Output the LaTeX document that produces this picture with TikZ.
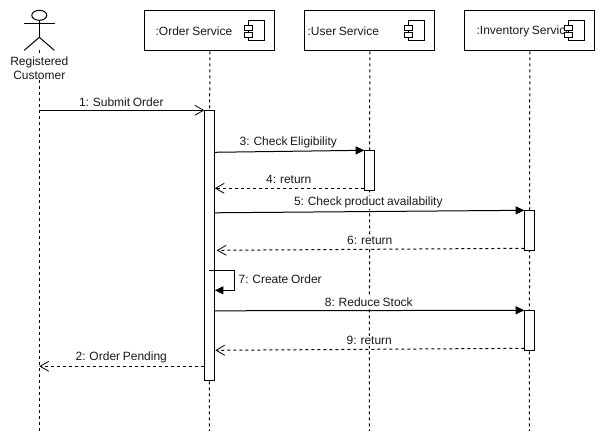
\documentclass[tikz,border=0pt]{standalone}
\usepackage{fontspec}
\setmainfont[WordSpace=0.8]{Liberation Sans}
\usetikzlibrary{arrows.meta,shapes.geometric}
\tikzset{
  x=0.75pt,y=-0.75pt,
  every path/.style={line width=0.75pt},
  lifeline/.style={draw,dash pattern=on 2.25pt off 2.25pt},
  headbox/.style={draw,fill=white,minimum width=97.5pt,minimum height=30pt,inner sep=0pt,anchor=north west},
  bar/.style={draw,fill=white,minimum width=7.5pt,inner sep=0pt,anchor=north west},
  txt/.style={font=\fontsize{9}{10.5}\selectfont,inner sep=0.6pt,text=black!90},
  msglabel/.style={txt,fill=white},
  sync/.style={draw,-{Triangle[length=6.5pt,width=6pt]}},
  async/.style={draw,-{Straight Barb[length=6.5pt,width=7.5pt,line width=0.6pt]}},
  ret/.style={draw,dash pattern=on 2.25pt off 2.25pt,-{Straight Barb[length=6.5pt,width=7.5pt,line width=0.6pt]}},
  iconbody/.style={draw,fill=white},
}
\begin{document}
\begin{tikzpicture}
\useasboundingbox (0.2,0.2) rectangle (605.2,441.2);
% heads
\node[headbox] (order) at (144.5,10.5) {};
\node[headbox] (user) at (304.5,10.5) {};
\node[headbox] (inv) at (464.5,10.5) {};
% lifeline ends
\coordinate (custTop) at (39.5,50);
\coordinate (custEnd) at (39.5,431);
\coordinate (orderEnd) at (209.5,431);
\coordinate (userEnd) at (369.5,431);
\coordinate (invEnd) at (529.5,431);
\draw[lifeline] (custTop) -- (custEnd);
\draw[lifeline] (order.south) -- (orderEnd);
\draw[lifeline] (user.south) -- (userEnd);
\draw[lifeline] (inv.south) -- (invEnd);
% actor
\node[draw,ellipse,minimum width=11.25pt,minimum height=7.5pt,inner sep=0pt] (head) at (39.5,15.5) {};
\coordinate (armL) at (24.5,23.5);
\coordinate (armR) at (55,23.5);
\coordinate (hip) at (39.5,37.5);
\coordinate (legL) at (24.5,50.5);
\coordinate (legR) at (54.5,50.5);
\draw (head.south) -- (hip);
\draw (armL) -- (armR);
\draw (legL) -- (hip) -- (legR);
\node[txt,fill=white,align=center] (cust) at (39.5,68) {Registered\\Customer};
% head text
\node[txt,anchor=west] (orderT) at (154.5,31.5) {:Order Service};
\node[txt,anchor=west] (userT) at (306.5,31.5) {:User Service};
\node[txt,anchor=west] (invT) at (475.5,31.5) {:Inventory Service};
% component icons
\draw[iconbody] (248.5,20.5) rectangle (264.5,40.5);
\draw[iconbody] (244.5,25.5) rectangle (252.5,30.5);
\draw[iconbody] (244.5,32.5) rectangle (252.5,37.5);
\draw[iconbody] (408.5,20.5) rectangle (424.5,40.5);
\draw[iconbody] (404.5,25.5) rectangle (412.5,30.5);
\draw[iconbody] (404.5,32.5) rectangle (412.5,37.5);
\draw[iconbody] (568.5,20.5) rectangle (584.5,40.5);
\draw[iconbody] (564.5,25.5) rectangle (572.5,30.5);
\draw[iconbody] (564.5,32.5) rectangle (572.5,37.5);
% activations
\node[bar,minimum height=202.5pt] (aOrder) at (204.5,110.5) {};
\node[bar,minimum height=30pt] (aUser) at (364.5,150.5) {};
\node[bar,minimum height=30pt] (aInv1) at (524.5,210.5) {};
\node[bar,minimum height=30pt] (aInv2) at (524.5,310.5) {};
% labels
\node[msglabel] (l1) at (121.5,102) {1: Submit Order};
\node[msglabel] (l3) at (288.5,143) {3: Check Eligibility};
\node[msglabel] (l4) at (289,180) {4: return};
\node[msglabel] (l5) at (368.5,203) {5: Check product availability};
\node[msglabel] (l6) at (370,241) {6: return};
\node[msglabel,anchor=west] (l7) at (237.5,279) {7: Create Order};
\node[msglabel] (l8) at (369,302) {8: Reduce Stock};
\node[msglabel] (l9) at (369.5,341) {9: return};
\node[msglabel] (l2) at (121.5,358) {2: Order Pending};
% message end points
\coordinate (m1a) at (39.5,110.5);
\coordinate (m1b) at (aOrder.north west);
\coordinate (m3a) at (214,152.5);
\coordinate (m3b) at (aUser.north west);
\coordinate (m4a) at (364.5,188.5);
\coordinate (m4b) at (215,188.5);
\coordinate (m5a) at (214.5,213);
\coordinate (m5b) at (aInv1.north west);
\coordinate (m6a) at (524.5,248.5);
\coordinate (m6b) at (217,250.5);
\coordinate (m7a) at (209.5,270.5);
\coordinate (m7c) at (234.5,270.5);
\coordinate (m7d) at (234.5,290.5);
\coordinate (m7b) at (215,290.5);
\coordinate (m8a) at (214,311);
\coordinate (m8b) at (aInv2.north west);
\coordinate (m9a) at (524.5,348.5);
\coordinate (m9b) at (215.5,350.5);
\coordinate (m2a) at (204.5,366.5);
\coordinate (m2b) at (39.5,366.5);
% messages
\draw[async] (m1a) -- (m1b);
\draw[sync] (m3a) -- (m3b);
\draw[ret] (m4a) -- (m4b);
\draw[sync] (m5a) -- (m5b);
\draw[ret] (m6a) -- (m6b);
\draw[sync] (m7a) -- (m7c) -- (m7d) -- (m7b);
\draw[sync] (m8a) -- (m8b);
\draw[ret] (m9a) -- (m9b);
\draw[ret] (m2a) -- (m2b);
\end{tikzpicture}
\end{document}
